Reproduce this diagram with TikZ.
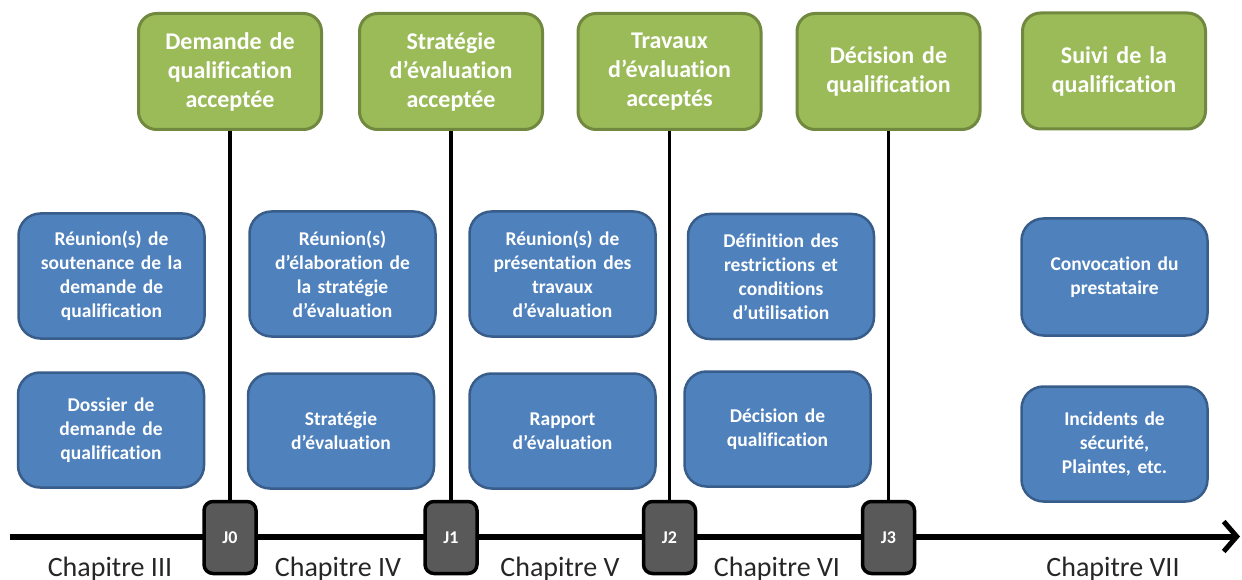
\documentclass[tikz,border=0pt]{standalone}
\usepackage{fontspec}
\setmainfont{Carlito}[Ligatures=NoCommon]
\usetikzlibrary{arrows.meta}
\definecolor{gfill}{HTML}{9BBB59}
\definecolor{gdraw}{HTML}{71893F}
\definecolor{bfill}{HTML}{4F81BD}
\definecolor{bdraw}{HTML}{385D8A}
\definecolor{jfill}{HTML}{595959}
\definecolor{chaptxt}{HTML}{262626}
\begin{document}
\begin{tikzpicture}[x=1pt,y=-1pt,
  gbox/.style={draw=gdraw, fill=gfill, line width=3pt, rounded corners=18pt,
    minimum width=183pt, minimum height=116pt, text width=176pt, align=center,
    text=white, font=\fontsize{24}{29}\selectfont\bfseries, inner sep=0pt},
  bbox/.style={draw=bdraw, fill=bfill, line width=2.5pt, rounded corners=22pt,
    minimum width=186pt, minimum height=115pt, text width=176pt, align=center,
    text=white, font=\fontsize{19.5}{24}\selectfont\bfseries, inner sep=0pt},
  tall/.style={minimum height=125pt},
  jbox/.style={draw=black, fill=jfill, line width=3.5pt, rounded corners=9pt,
    minimum width=52pt, minimum height=72pt, text=white,
    font=\fontsize{18}{20}\selectfont\bfseries, inner sep=0pt},
  chap/.style={font=\fontsize{28}{32}\selectfont, text=chaptxt, anchor=base},
  link/.style={line width=3.5pt},
  axis/.style={line width=6pt, -{Straight Barb[length=13pt,width=30pt,line width=5pt]}}
]
\useasboundingbox (0,0) rectangle (1242,580);

% timeline axis
\coordinate (axstart) at (10,536.5);
\coordinate (axend) at (1240,536.5);
\draw[axis] (axstart) -- (axend);

% green milestone boxes
\node[gbox] (g1) at (230,71.5) {Demande de\\qualification\\acceptée};
\node[gbox] (g2) at (451,71.5) {Stratégie\\d’évaluation\\acceptée};
\node[gbox] (g3) at (669.5,71.5) {Travaux\\d’évaluation\\acceptés};
\node[gbox] (g4) at (888.5,71.5) {Décision de\\qualification};
\node[gbox] (g5) at (1114,71) {Suivi de la\\qualification};

% J markers
\node[jbox] (j0) at (230,537.5) {J0};
\node[jbox] (j1) at (451,537.5) {J1};
\node[jbox] (j2) at (669.5,537.5) {J2};
\node[jbox] (j3) at (888.5,537.5) {J3};

% connectors
\draw[link] (g1.south) -- (j0.north);
\draw[link] (g2.south) -- (j1.north);
\draw[link] (g3.south) -- (j2.north);
\draw[link] (g4.south) -- (j3.north);

% blue boxes, upper row
\node[bbox,tall] (b1) at (111.5,276) {Réunion(s) de\\soutenance de la\\demande de\\qualification};
\node[bbox,tall] (b2) at (342.5,274) {Réunion(s)\\d’élaboration de\\la stratégie\\d’évaluation};
\node[bbox,tall] (b3) at (562.5,274) {Réunion(s) de\\présentation des\\travaux\\d’évaluation};
\node[bbox,tall] (b4) at (781,276.5) {Définition des\\restrictions et\\conditions\\d’utilisation};
\node[bbox,minimum height=117pt] (b5) at (1114.5,277) {Convocation du\\prestataire};

% blue boxes, lower row
\node[bbox] (b6) at (111,430) {Dossier de\\demande de\\qualification};
\node[bbox] (b7) at (341,431) {Stratégie\\d’évaluation};
\node[bbox] (b8) at (562.5,431) {Rapport\\d’évaluation};
\node[bbox] (b9) at (777.5,429) {Décision de\\qualification};
\node[bbox] (b10) at (1114.5,444) {Incidents de\\sécurité,\\Plaintes, etc.};

% chapter labels
\node[chap] (c3) at (110,576) {Chapitre III};
\node[chap] (c4) at (338,576) {Chapitre IV};
\node[chap] (c5) at (560,576) {Chapitre V};
\node[chap] (c6) at (777,576) {Chapitre VI};
\node[chap] (c7) at (1113,576) {Chapitre VII};
\end{tikzpicture}
\end{document}
